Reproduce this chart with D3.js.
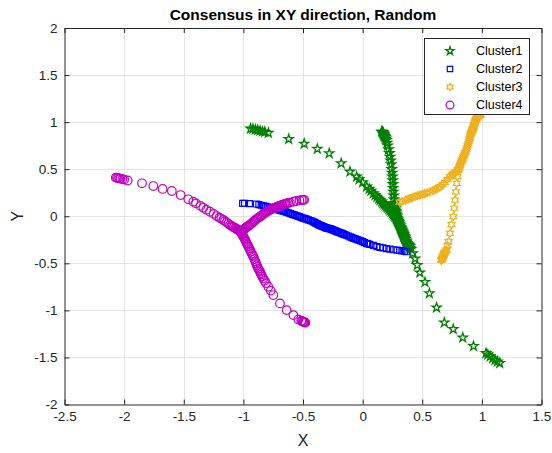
<!DOCTYPE html>
<html>
<head>
<meta charset="utf-8">
<script src="https://cdn.jsdelivr.net/npm/d3@7"></script>
<style>
  html, body { margin: 0; padding: 0; background: #fff; }
  svg { display: block; }
  text { font-family: "Liberation Sans", Arial, sans-serif; }
</style>
</head>
<body>
<svg id="chart" width="552" height="453"></svg>
<script>
// Axis ticks
const xTicks = [-2.5, -2, -1.5, -1, -0.5, 0, 0.5, 1, 1.5];
const yTicks = [-2, -1.5, -1, -0.5, 0, 0.5, 1, 1.5, 2];
const xTickLabels = ["-2.5", "-2", "-1.5", "-1", "-0.5", "0", "0.5", "1", "1.5"];
const yTickLabels = ["-2", "-1.5", "-1", "-0.5", "0", "0.5", "1", "1.5", "2"];

const seriesNames = ["Cluster1", "Cluster2", "Cluster3", "Cluster4"];

// Cluster 1: three agents meeting near (0.37, -0.29)
const cluster1 = [
  [[-0.94,0.93],[-0.92,0.927],[-0.9,0.92],[-0.88,0.915],[-0.86,0.908],[-0.84,0.9],[-0.82,0.895],[-0.79,0.885],
   [-0.62,0.82],[-0.49,0.77],[-0.38,0.715],[-0.28,0.668],[-0.18,0.562],[-0.106,0.473],[-0.05,0.42],[-0.03,0.392],
   [0.0,0.36],[0.034,0.314],[0.055,0.29],[0.07,0.27],[0.09,0.243],[0.105,0.225],[0.12,0.205],[0.135,0.188],
   [0.146,0.172],[0.16,0.155],[0.17,0.14],[0.18,0.128],[0.19,0.115],[0.2,0.102],[0.21,0.09],[0.22,0.075],
   [0.23,0.06],[0.24,0.045],[0.25,0.03],[0.258,0.018],[0.265,0.005],[0.272,-0.008],[0.28,-0.02],[0.285,-0.033],
   [0.29,-0.045],[0.295,-0.058],[0.30,-0.07],[0.305,-0.085],[0.31,-0.1],[0.315,-0.115],[0.32,-0.13],[0.325,-0.145],
   [0.33,-0.16],[0.335,-0.175],[0.34,-0.19],[0.345,-0.205],[0.35,-0.22],[0.355,-0.24],[0.36,-0.26],
   [0.365,-0.275],[0.37,-0.29]],
  [[0.16,0.9],[0.165,0.895],[0.17,0.89],[0.172,0.882],[0.175,0.875],[0.178,0.867],[0.18,0.86],[0.185,0.85],
   [0.19,0.84],[0.195,0.825],[0.2,0.81],[0.205,0.78],[0.21,0.75],[0.218,0.71],[0.225,0.67],[0.23,0.63],
   [0.235,0.59],[0.24,0.55],[0.244,0.5],[0.247,0.46],[0.25,0.42],[0.252,0.38],[0.254,0.34],[0.256,0.3],
   [0.258,0.26],[0.26,0.22],[0.263,0.18],[0.266,0.14],[0.268,0.12],[0.27,0.1],[0.272,0.085],[0.275,0.07],
   [0.278,0.055],[0.28,0.04],[0.283,0.025],[0.285,0.01],[0.288,-0.005],[0.29,-0.02],[0.295,-0.035],[0.3,-0.05],
   [0.305,-0.065],[0.31,-0.08],[0.315,-0.1],[0.32,-0.12],[0.325,-0.135],[0.33,-0.15],[0.335,-0.165],[0.34,-0.18],
   [0.345,-0.195],[0.35,-0.21],[0.355,-0.225],[0.36,-0.24],[0.365,-0.265],[0.37,-0.285]],
  [[1.15,-1.56],[1.13,-1.545],[1.11,-1.53],[1.09,-1.51],[1.07,-1.49],[1.05,-1.47],[1.035,-1.455],[0.93,-1.38],
   [0.84,-1.29],[0.76,-1.2],[0.685,-1.13],[0.62,-0.97],[0.56,-0.82],[0.523,-0.7],[0.48,-0.6],[0.458,-0.52],
   [0.44,-0.45],[0.42,-0.395],[0.405,-0.35],[0.4,-0.335],[0.395,-0.32],[0.39,-0.31],[0.385,-0.305],[0.38,-0.3],
   [0.375,-0.295],[0.37,-0.29]]
];

// Cluster 2: two agents meeting near (-0.3, -0.125)
const cluster2 = [
  [[-1.006,0.137],[-0.99,0.136],[-0.95,0.134],[-0.89,0.13],[-0.87,0.124],[-0.85,0.117],[-0.83,0.11],[-0.815,0.105],
   [-0.8,0.1],[-0.785,0.095],[-0.77,0.09],[-0.755,0.085],[-0.74,0.08],[-0.725,0.075],[-0.71,0.07],[-0.695,0.065],
   [-0.68,0.06],[-0.665,0.055],[-0.65,0.05],[-0.635,0.042],[-0.62,0.035],[-0.605,0.027],[-0.59,0.02],
   [-0.575,0.015],[-0.56,0.01],[-0.545,0.002],[-0.53,-0.005],[-0.515,-0.012],[-0.5,-0.02],[-0.485,-0.025],
   [-0.47,-0.03],[-0.455,-0.038],[-0.44,-0.045],[-0.425,-0.052],[-0.41,-0.06],[-0.4,-0.068],[-0.39,-0.075],
   [-0.38,-0.082],[-0.37,-0.09],[-0.36,-0.095],[-0.35,-0.1],[-0.34,-0.105],[-0.33,-0.11],[-0.32,-0.115],
   [-0.31,-0.12],[-0.3,-0.125]],
  [[0.37,-0.377],[0.35,-0.372],[0.33,-0.368],[0.31,-0.364],[0.29,-0.36],[0.26,-0.356],[0.23,-0.35],[0.2,-0.345],
   [0.17,-0.337],[0.146,-0.33],[0.12,-0.322],[0.09,-0.31],[0.06,-0.298],[0.045,-0.293],[0.034,-0.288],
   [0.015,-0.28],[0.0,-0.27],[-0.015,-0.262],[-0.03,-0.255],[-0.045,-0.248],[-0.06,-0.24],[-0.075,-0.234],
   [-0.09,-0.228],[-0.105,-0.22],[-0.12,-0.21],[-0.135,-0.202],[-0.15,-0.195],[-0.16,-0.19],[-0.17,-0.185],
   [-0.18,-0.18],[-0.19,-0.175],[-0.2,-0.17],[-0.21,-0.165],[-0.22,-0.16],[-0.23,-0.155],[-0.24,-0.15],
   [-0.25,-0.145],[-0.26,-0.14],[-0.27,-0.135],[-0.28,-0.131],[-0.29,-0.128],[-0.3,-0.125]]
];

// Cluster 3: three agents meeting near (0.8, 0.49)
const cluster3 = [
  [[0.99,1.08],[0.985,1.075],[0.98,1.07],[0.975,1.065],[0.97,1.06],[0.965,1.052],[0.96,1.045],[0.955,1.037],
   [0.95,1.03],[0.947,1.02],[0.945,1.01],[0.942,1.0],[0.94,0.99],[0.937,0.98],[0.935,0.97],[0.932,0.96],
   [0.93,0.95],[0.927,0.94],[0.925,0.93],[0.922,0.92],[0.92,0.91],[0.916,0.9],[0.912,0.89],[0.908,0.88],
   [0.905,0.87],[0.902,0.855],[0.9,0.84],[0.897,0.825],[0.895,0.81],[0.89,0.79],[0.885,0.77],[0.88,0.75],
   [0.875,0.73],[0.87,0.71],[0.865,0.69],[0.86,0.675],[0.855,0.66],[0.85,0.645],[0.844,0.632],[0.84,0.615],
   [0.835,0.6],[0.83,0.585],[0.825,0.57],[0.82,0.555],[0.817,0.54],[0.813,0.527],[0.81,0.515],[0.805,0.5],[0.8,0.49]],
  [[0.31,0.15],[0.33,0.155],[0.36,0.17],[0.38,0.18],[0.397,0.19],[0.42,0.2],[0.44,0.21],[0.46,0.218],
   [0.481,0.225],[0.5,0.232],[0.52,0.24],[0.54,0.25],[0.565,0.26],[0.59,0.272],[0.61,0.285],[0.63,0.298],
   [0.649,0.313],[0.67,0.335],[0.69,0.36],[0.71,0.39],[0.733,0.42],[0.75,0.44],[0.76,0.45],[0.77,0.46],
   [0.78,0.47],[0.79,0.48],[0.8,0.49]],
  [[0.66,-0.47],[0.662,-0.462],[0.665,-0.455],[0.667,-0.447],[0.67,-0.44],[0.672,-0.432],[0.675,-0.425],
   [0.677,-0.417],[0.68,-0.41],[0.682,-0.402],[0.685,-0.395],[0.688,-0.387],[0.69,-0.38],[0.697,-0.37],
   [0.705,-0.359],[0.712,-0.31],[0.72,-0.27],[0.733,-0.182],[0.745,-0.09],[0.76,-0.005],[0.768,0.085],
   [0.775,0.172],[0.782,0.26],[0.789,0.35],[0.795,0.42],[0.8,0.49]]
];

// Cluster 4: three agents meeting near (-1.02, -0.167)
const cluster4 = [
  [[-2.07,0.41],[-2.06,0.408],[-2.05,0.405],[-2.04,0.402],[-2.03,0.4],[-2.015,0.395],[-2.0,0.39],[-1.97,0.38],
   [-1.85,0.35],[-1.755,0.321],[-1.677,0.29],[-1.6,0.268],[-1.526,0.225],[-1.462,0.18],[-1.42,0.155],
   [-1.397,0.137],[-1.36,0.11],[-1.336,0.09],[-1.31,0.07],[-1.28,0.048],[-1.25,0.025],[-1.224,0.002],
   [-1.2,-0.015],[-1.185,-0.027],[-1.168,-0.04],[-1.155,-0.052],[-1.14,-0.065],[-1.125,-0.08],[-1.112,-0.094],
   [-1.1,-0.103],[-1.09,-0.11],[-1.08,-0.118],[-1.07,-0.125],[-1.063,-0.13],[-1.056,-0.136],[-1.05,-0.141],
   [-1.045,-0.145],[-1.04,-0.15],[-1.035,-0.155],[-1.03,-0.158],[-1.025,-0.162],[-1.022,-0.165],[-1.02,-0.167]],
  [[-0.49,0.175],[-0.5,0.173],[-0.511,0.172],[-0.53,0.168],[-0.555,0.162],[-0.581,0.154],[-0.61,0.145],
   [-0.625,0.141],[-0.637,0.137],[-0.65,0.132],[-0.66,0.127],[-0.67,0.122],[-0.68,0.117],[-0.69,0.112],
   [-0.7,0.108],[-0.71,0.104],[-0.72,0.1],[-0.73,0.095],[-0.74,0.09],[-0.75,0.084],[-0.76,0.078],[-0.77,0.071],
   [-0.78,0.065],[-0.79,0.057],[-0.8,0.05],[-0.81,0.042],[-0.82,0.035],[-0.83,0.025],[-0.84,0.015],[-0.85,0.005],
   [-0.86,-0.005],[-0.87,-0.012],[-0.88,-0.02],[-0.89,-0.03],[-0.9,-0.04],[-0.908,-0.049],[-0.916,-0.058],
   [-0.925,-0.069],[-0.935,-0.08],[-0.945,-0.09],[-0.955,-0.1],[-0.963,-0.106],[-0.972,-0.112],[-0.98,-0.123],
   [-0.99,-0.135],[-0.998,-0.143],[-1.005,-0.15],[-1.01,-0.155],[-1.015,-0.16],[-1.02,-0.167]],
  [[-0.48,-1.13],[-0.485,-1.128],[-0.49,-1.125],[-0.495,-1.122],[-0.5,-1.12],[-0.508,-1.115],[-0.515,-1.11],
   [-0.539,-1.096],[-0.581,-1.05],[-0.637,-0.997],[-0.693,-0.926],[-0.749,-0.837],[-0.77,-0.79],[-0.791,-0.749],
   [-0.81,-0.71],[-0.822,-0.685],[-0.833,-0.66],[-0.842,-0.64],[-0.85,-0.62],[-0.855,-0.605],[-0.86,-0.59],
   [-0.868,-0.572],[-0.875,-0.555],[-0.882,-0.537],[-0.888,-0.519],[-0.894,-0.5],[-0.9,-0.48],[-0.908,-0.455],
   [-0.916,-0.43],[-0.923,-0.412],[-0.93,-0.395],[-0.937,-0.377],[-0.944,-0.359],[-0.951,-0.34],[-0.958,-0.32],
   [-0.965,-0.304],[-0.972,-0.288],[-0.978,-0.27],[-0.985,-0.25],[-0.992,-0.234],[-1.0,-0.218],[-1.004,-0.206],
   [-1.008,-0.195],[-1.012,-0.187],[-1.015,-0.18],[-1.018,-0.173],[-1.02,-0.167]]
];

// ---- marker shapes (outline symbols drawn into a d3 path context) ----
const pentagram = {
  draw(ctx, r) {
    const ri = r * 0.382;
    for (let i = 0; i < 10; i++) {
      const rr = i % 2 === 0 ? r : ri;
      const a = -Math.PI / 2 + i * Math.PI / 5;
      const px = rr * Math.cos(a), py = rr * Math.sin(a);
      if (i === 0) ctx.moveTo(px, py); else ctx.lineTo(px, py);
    }
    ctx.closePath();
  }
};
const hexagram = {
  draw(ctx, r) {
    const ri = r * 0.577;
    for (let i = 0; i < 12; i++) {
      const rr = i % 2 === 0 ? r : ri;
      const a = -Math.PI / 2 + i * Math.PI / 6;
      const px = rr * Math.cos(a), py = rr * Math.sin(a);
      if (i === 0) ctx.moveTo(px, py); else ctx.lineTo(px, py);
    }
    ctx.closePath();
  }
};
const squareM = {
  draw(ctx, r) { ctx.rect(-r, -r, 2 * r, 2 * r); }
};
const circleM = {
  draw(ctx, r) { ctx.moveTo(r, 0); ctx.arc(0, 0, r, 0, 2 * Math.PI); }
};

const styles = [
  { shape: pentagram, r: 4.8, color: "#008000", width: 1.3 },
  { shape: squareM,   r: 3.0, color: "#0000ff", width: 1.2 },
  { shape: hexagram,  r: 4.0, color: "#edb120", width: 1.2 },
  { shape: circleM,   r: 4.3, color: "#bf00bf", width: 1.2 }
];
const clusters = [cluster1, cluster2, cluster3, cluster4];

const svg = d3.select("#chart");
const margin = { left: 64.5, right: 541.5, top: 28, bottom: 404.5 };

const x = d3.scaleLinear().domain([-2.5, 1.5]).range([margin.left, margin.right]);
const y = d3.scaleLinear().domain([-2, 2]).range([margin.bottom, margin.top]);

// grid
const grid = svg.append("g").attr("stroke", "#e3e3e3").attr("stroke-width", 1);
grid.selectAll("line.gx").data(xTicks.slice(1, -1)).join("line")
  .attr("x1", d => Math.round(x(d)) + 0.5).attr("x2", d => Math.round(x(d)) + 0.5)
  .attr("y1", margin.top).attr("y2", margin.bottom);
grid.selectAll("line.gy").data(yTicks.slice(1, -1)).join("line")
  .attr("y1", d => Math.round(y(d)) + 0.5).attr("y2", d => Math.round(y(d)) + 0.5)
  .attr("x1", margin.left).attr("x2", margin.right);

// markers
const plot = svg.append("g");
clusters.forEach((cl, i) => {
  const st = styles[i];
  const sym = d3.symbol().type(st.shape).size(st.r);
  const pts = cl.flat();
  plot.append("g")
    .selectAll("path").data(pts).join("path")
    .attr("d", sym)
    .attr("transform", d => `translate(${x(d[0])},${y(d[1])})`)
    .attr("fill", "none")
    .attr("stroke", st.color)
    .attr("stroke-width", st.width);
});

// axes
const axisColor = "#262626";
const fmtX = d => xTickLabels[xTicks.indexOf(d)];
const fmtY = d => yTickLabels[yTicks.indexOf(d)];

const gx = svg.append("g").attr("transform", `translate(0,${margin.bottom})`)
  .call(d3.axisBottom(x).tickValues(xTicks).tickFormat(fmtX).tickSizeInner(-5).tickSizeOuter(0).tickPadding(7));
const gxTop = svg.append("g").attr("transform", `translate(0,${margin.top})`)
  .call(d3.axisTop(x).tickValues(xTicks).tickFormat("").tickSizeInner(-5).tickSizeOuter(0));
const gy = svg.append("g").attr("transform", `translate(${margin.left},0)`)
  .call(d3.axisLeft(y).tickValues(yTicks).tickFormat(fmtY).tickSizeInner(-5).tickSizeOuter(0).tickPadding(7));
const gyRight = svg.append("g").attr("transform", `translate(${margin.right},0)`)
  .call(d3.axisRight(y).tickValues(yTicks).tickFormat("").tickSizeInner(-5).tickSizeOuter(0));

[gx, gxTop, gy, gyRight].forEach(g => {
  g.select(".domain").attr("stroke", axisColor).attr("stroke-width", 1);
  g.selectAll(".tick line").attr("stroke", axisColor).attr("stroke-width", 1);
  g.selectAll(".tick text").attr("fill", axisColor)
    .style("font-family", '"Liberation Sans", Arial, sans-serif').style("font-size", "13.5px");
});
gy.selectAll(".tick text").attr("dy", "0.32em");

// title and axis labels
svg.append("text")
  .attr("x", (margin.left + margin.right) / 2).attr("y", 20)
  .attr("text-anchor", "middle")
  .style("font-size", "15.5px").style("font-weight", "bold").attr("fill", "#000")
  .text("Consensus in XY direction, Random");
svg.append("text")
  .attr("x", (margin.left + margin.right) / 2).attr("y", 446)
  .attr("text-anchor", "middle").style("font-size", "16px").attr("fill", axisColor)
  .text("X");
svg.append("text")
  .attr("transform", `translate(23,${(margin.top + margin.bottom) / 2}) rotate(-90)`)
  .attr("text-anchor", "middle").style("font-size", "16px").attr("fill", axisColor)
  .text("Y");

// legend
const lg = svg.append("g");
lg.append("rect")
  .attr("x", 424.5).attr("y", 38.5).attr("width", 105).attr("height", 76)
  .attr("fill", "#fff").attr("stroke", axisColor).attr("stroke-width", 1);
seriesNames.forEach((name, i) => {
  const st = styles[i];
  const cy = 51 + i * 18;
  lg.append("path")
    .attr("d", d3.symbol().type(st.shape).size(st.r * 0.9)())
    .attr("transform", `translate(450,${cy})`)
    .attr("fill", "none").attr("stroke", st.color).attr("stroke-width", st.width);
  lg.append("text")
    .attr("x", 476).attr("y", cy).attr("dy", "0.35em")
    .style("font-size", "12.5px").attr("fill", "#000")
    .text(name);
});
</script>
</body>
</html>
